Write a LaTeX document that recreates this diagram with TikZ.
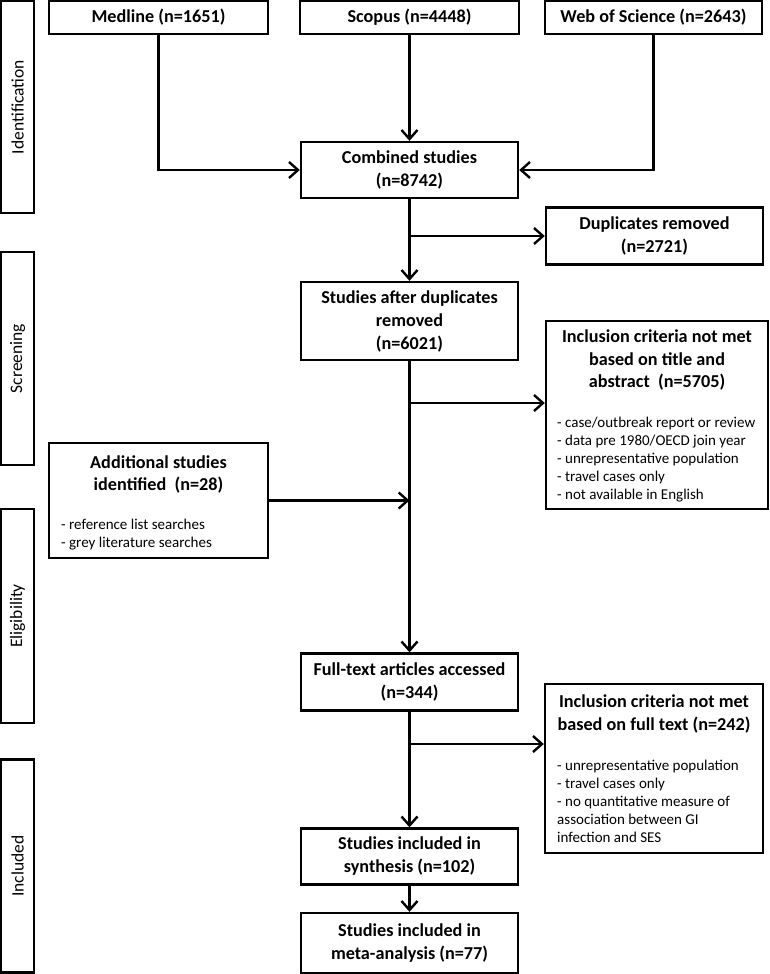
\documentclass[tikz,border=0pt]{standalone}
\usepackage{fontspec}
\setmainfont{Carlito}
\usetikzlibrary{arrows.meta,calc}
\begin{document}
\begin{tikzpicture}[x=1pt,y=-1pt,
  lw/.style={line width=2.4pt},
  box/.style={draw, lw, inner sep=0pt, align=center, font=\fontsize{18.2}{23}\selectfont\bfseries},
  frame/.style={draw, lw, inner sep=0pt},
  ttl/.style={inner sep=0pt, align=center, anchor=north, font=\fontsize{18.2}{22.5}\selectfont\bfseries},
  side/.style={draw, lw, inner sep=0pt, rotate=90, minimum height=33pt, font=\fontsize{17.5}{21}\selectfont},
  conn/.style={lw, -{Straight Barb[length=9pt,width=16pt,line width=2.4pt]}},
  link/.style={lw},
  list/.style={inner sep=0pt, align=left, anchor=north west, font=\fontsize{15}{18}\selectfont}
]
\useasboundingbox (0,0) rectangle (769,974);

% side labels
\node[side, minimum width=212pt] (ident) at (17.5,107) {Identification};
\node[side, minimum width=213pt] (screen) at (17.5,358.5) {Screening};
\node[side, minimum width=214pt] (elig) at (17.5,616) {Eligibility};
\node[side, minimum width=213pt] (incl) at (17.5,866) {Included};

% top row
\node[box, minimum width=219pt, minimum height=33pt] (medline) at (158.5,17.5) {Medline (n=1651)};
\node[box, minimum width=219pt, minimum height=33pt] (scopus) at (409.5,17.5) {Scopus (n=4448)};
\node[box, minimum width=217pt, minimum height=33pt] (wos) at (653.5,17.5) {Web of Science (n=2643)};

\node[box, minimum width=217pt, minimum height=56pt] (comb) at (409.5,170) {Combined studies\\(n=8742)};
\node[box, minimum width=217pt, minimum height=57pt] (dup) at (654.5,236) {Duplicates removed\\(n=2721)};
\node[box, minimum width=217pt, minimum height=78pt] (after) at (409.5,321) {Studies after duplicates\\removed\\(n=6021)};

% inclusion 1
\node[frame, minimum width=222pt, minimum height=188pt] (inc1) at (657,415) {};
\node[ttl] (inc1t) at (657,330) {Inclusion criteria not met\\based on title and\\abstract~~(n=5705)};
\node[list] (inc1l) at (557,417) {- case/outbreak report or review\\- data pre 1980/OECD join year\\- unrepresentative population\\- travel cases only\\- not available in English};

% additional
\node[frame, minimum width=219pt, minimum height=115pt] (add) at (158.5,500.5) {};
\node[ttl] (addt) at (158.5,455) {Additional studies\\identified~~(n=28)};
\node[list] (addl) at (61,519) {- reference list searches\\- grey literature searches};

\node[box, minimum width=217pt, minimum height=57pt] (full) at (409.5,682) {Full-text articles accessed\\(n=344)};

% inclusion 2
\node[frame, minimum width=218pt, minimum height=169pt] (inc2) at (654,768.5) {};
\node[ttl] (inc2t) at (654,695) {Inclusion criteria not met\\based on full text (n=242)};
\node[list] (inc2l) at (557,760) {- unrepresentative population\\- travel cases only\\- no quantitative measure of\\association between GI\\infection and SES};

\node[box, minimum width=217pt, minimum height=56pt] (synth) at (409.5,856.5) {Studies included in\\synthesis (n=102)};
\node[box, minimum width=217pt, minimum height=60pt] (meta) at (409.5,943) {Studies included in\\meta-analysis (n=77)};

% connectors
\draw[conn] (scopus.south) -- (comb.north);
\draw[conn] (medline.south) |- (comb.west);
\draw[conn] (wos.south) |- (comb.east);
\draw[conn] (comb.south) -- (after.north);
\draw[conn] (comb.south |- dup.west) -- (dup.west);
\draw[conn] (after.south) -- (full.north);
\coordinate (b2) at (409.5,403);
\draw[conn] (b2) -- (b2 -| inc1.west);
\draw[conn] (add.east) -- (add.east -| after.south);
\draw[conn] (full.south) -- (synth.north);
\coordinate (b3) at (409.5,744);
\draw[conn] (b3) -- (b3 -| inc2.west);
\draw[conn] (synth.south) -- (meta.north);
\end{tikzpicture}
\end{document}
